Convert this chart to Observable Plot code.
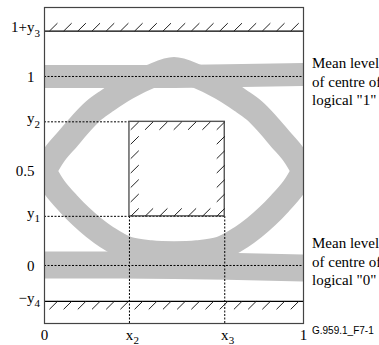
<!DOCTYPE html>
<html><head><meta charset="utf-8">
<script src="https://cdn.jsdelivr.net/npm/d3@7"></script>
<script src="https://cdn.jsdelivr.net/npm/@observablehq/plot@0.6"></script>
<style>
body{margin:0;background:#fff;}
#chart svg{display:block;}
</style></head><body><div id="chart"></div>
<script>
// mask parameters (in eye-diagram units)
const x2v = 0.328, x3v = 0.696;
const y1v = 0.26, y2v = 0.76, y3v = 0.24, y4v = 0.19;
const xDomain = [0, 1];
const yDomain = [-0.307, 1.365];

// eye pattern traces (centre lines of the grey bands)
const eyeX   = [0, 0.04, 0.09, 0.14, 0.19, 0.24, 0.32, 0.41, 0.5, 0.59, 0.68, 0.76, 0.81, 0.86, 0.91, 0.96, 1];
const upperY = [0.5, 0.59, 0.67, 0.75, 0.82, 0.87, 0.94, 1.0, 1.04, 1.0, 0.94, 0.87, 0.82, 0.75, 0.67, 0.59, 0.5];
const lowerY = [0.5, 0.41, 0.33, 0.26, 0.2, 0.15, 0.09, 0.07, 0.065, 0.07, 0.09, 0.15, 0.2, 0.26, 0.33, 0.41, 0.5];
const levelX  = [0, 0.5, 1];
const level1Y = [1.0, 1.0, 1.01];
const level0Y = [0.003, 0.0, -0.013];

// tick labels
const yTickValues = [1 + y3v, 1, y2v, 0.5, y1v, 0, -y4v];
const yTickLabels = ["1+y", "1", "y", "0.5", "y", "0", "\u2212y"];
const yTickSubs   = ["3", "", "2", "", "1", "", "4"];
const xTickValues = [0, x2v, x3v, 1];
const xTickLabels = ["0", "x", "x", "1"];
const xTickSubs   = ["", "2", "3", ""];

const note1 = ["Mean level", "of centre of", "logical \"1\""];
const note0 = ["Mean level", "of centre of", "logical \"0\""];
const figId = "G.959.1_F7-1";

// hatch geometry (short "/" strokes)
const hw = 0.031, hh = 0.042, hatchStart = 0.019, hatchStep = 0.0548, hatchCount = 18;
const topHatch = d3.range(hatchCount).map(k => {
  const x = hatchStart + k * hatchStep;
  return {x1: x, y1: 1 + y3v, x2: x + hw, y2: 1 + y3v + hh};
});
const botHatch = d3.range(hatchCount).map(k => {
  const x = hatchStart + k * hatchStep;
  return {x1: x, y1: -y4v - hh, x2: x + hw, y2: -y4v};
});
const n = 7, boxHatch = [];
for (let i = 0; i < n; i++) for (let j = 0; j < n; j++) {
  if (i > 0 && i < n - 1 && j > 0 && j < n - 1) continue;
  const x = x2v + 0.005 + i * (x3v - x2v - hw - 0.005) / (n - 1);
  const y = y1v + j * (y2v - hh - y1v) / (n - 1);
  boxHatch.push({x1: x, y1: y, x2: x + hw, y2: y + hh});
}

const pts = (xs, ys) => xs.map((x, i) => ({x, y: ys[i]}));
const serif = "'Liberation Serif', 'Times New Roman', serif";
const sans = "'Liberation Sans', Arial, sans-serif";
const grey = "#c0c0c0";
const dash = "2,1.5";

const yTicks = yTickValues.map((v, i) => ({v, label: yTickLabels[i], sub: yTickSubs[i]}));
const xTicks = xTickValues.map((v, i) => ({v, label: xTickLabels[i], sub: xTickSubs[i]}));
const T = {fontFamily: serif, fill: "black"};

const chart = Plot.plot({
  width: 379, height: 345,
  marginLeft: 44, marginRight: 76, marginTop: 7, marginBottom: 22,
  x: {domain: xDomain, axis: null},
  y: {domain: yDomain, axis: null},
  style: {background: "white"},
  marks: [
    Plot.line(pts(levelX, level1Y), {x: "x", y: "y", stroke: grey, strokeWidth: 23, curve: "catmull-rom", clip: true, strokeLinecap: "butt"}),
    Plot.line(pts(levelX, level0Y), {x: "x", y: "y", stroke: grey, strokeWidth: 27, curve: "catmull-rom", clip: true, strokeLinecap: "butt"}),
    Plot.line(pts(eyeX, upperY), {x: "x", y: "y", stroke: grey, strokeWidth: 24, curve: "catmull-rom", clip: true}),
    Plot.line(pts(eyeX, lowerY), {x: "x", y: "y", stroke: grey, strokeWidth: 24, curve: "catmull-rom", clip: true}),
    // dotted reference lines
    Plot.ruleY([1, 0], {x1: 0, x2: 1, stroke: "black", strokeWidth: 1, strokeDasharray: dash}),
    Plot.ruleY([y2v], {x1: 0, x2: x2v, stroke: "black", strokeWidth: 1, strokeDasharray: dash}),
    Plot.ruleY([y1v], {x1: 0, x2: x3v, stroke: "black", strokeWidth: 1, strokeDasharray: dash}),
    Plot.ruleX([x2v, x3v], {y1: yDomain[0], y2: y1v, stroke: "black", strokeWidth: 1, strokeDasharray: dash}),
    // mask
    Plot.ruleY([1 + y3v, -y4v], {x1: 0, x2: 1, stroke: "black", strokeWidth: 1.2}),
    Plot.rect([{}], {x1: x2v, x2: x3v, y1: y1v, y2: y2v, fill: "none", stroke: "#555", strokeWidth: 1.4}),
    Plot.link(topHatch.concat(botHatch, boxHatch), {x1: "x1", y1: "y1", x2: "x2", y2: "y2", stroke: "#222", strokeWidth: 1}),
    Plot.frame({stroke: "#444", strokeWidth: 1.2}),
    // y tick labels
    Plot.text(yTicks.filter(d => !d.sub), {...T, y: "v", text: "label", frameAnchor: "left", textAnchor: "end", lineAnchor: "middle", dx: -10, dy: 0.5, fontSize: 15}),
    Plot.text(yTicks.filter(d => d.sub), {...T, y: "v", text: "label", frameAnchor: "left", textAnchor: "end", lineAnchor: "middle", dx: -10, dy: -3.5, fontSize: 15}),
    Plot.text(yTicks.filter(d => d.sub), {...T, y: "v", text: "sub", frameAnchor: "left", textAnchor: "start", lineAnchor: "middle", dx: -10, dy: 2.5, fontSize: 11}),
    // x tick labels
    Plot.text(xTicks, {...T, x: "v", text: "label", frameAnchor: "bottom", lineAnchor: "middle", dy: 12, fontSize: 15}),
    Plot.text(xTicks.filter(d => d.sub), {...T, x: "v", text: "sub", frameAnchor: "bottom", textAnchor: "start", lineAnchor: "bottom", dx: 4, dy: 20, fontSize: 11}),
    // notes
    Plot.text([note1.join("\n")], {...T, x: 1, y: 1, text: d => d, textAnchor: "start", lineAnchor: "middle", dx: 8.5, dy: 4.2, lineHeight: 1.22, fontSize: 15}),
    Plot.text([note0.join("\n")], {...T, x: 1, y: 0, text: d => d, textAnchor: "start", lineAnchor: "middle", dx: 8.5, dy: -4.8, lineHeight: 1.22, fontSize: 15}),
    Plot.text([figId], {frameAnchor: "bottom-right", text: d => d, textAnchor: "start", lineAnchor: "middle", dx: 8.5, dy: 6.8, fontSize: 10, fontFamily: sans, fill: "black"})
  ]
});
document.getElementById("chart").appendChild(chart);
</script>
</body></html>
